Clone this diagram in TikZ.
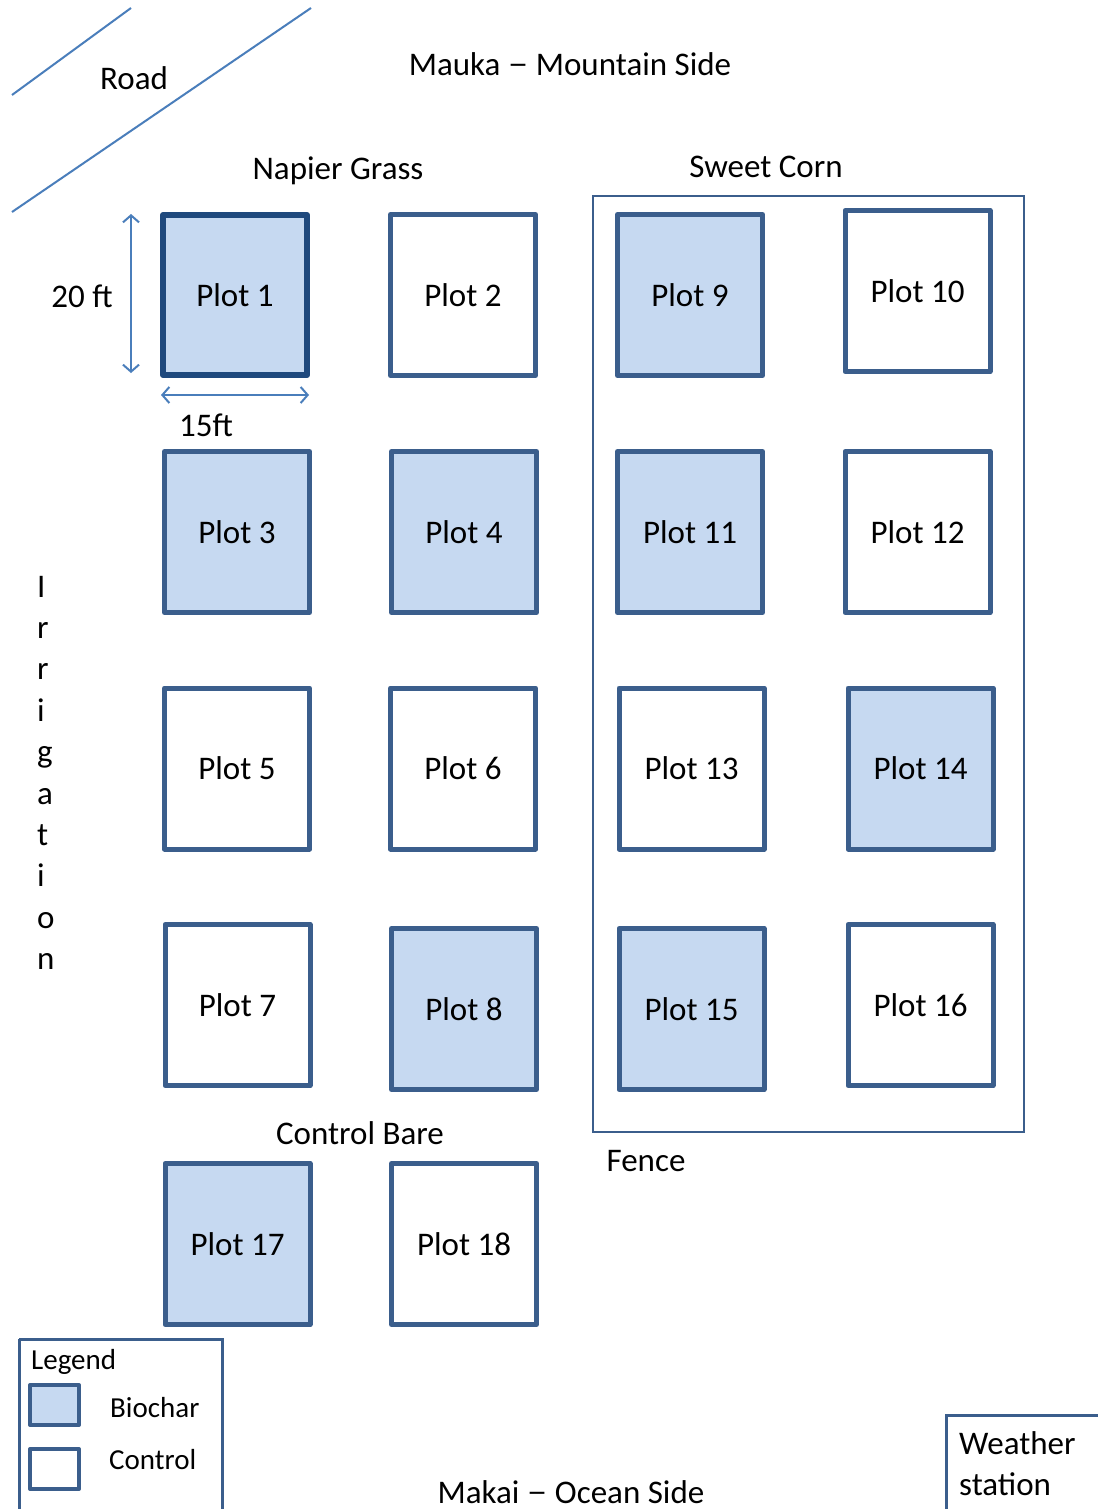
\documentclass[tikz,border=0pt]{standalone}
\usepackage{fontspec}
\setmainfont{Carlito}
\usetikzlibrary{arrows.meta}
\definecolor{plotline}{HTML}{3B5E8C}
\definecolor{darkline}{HTML}{1F497D}
\definecolor{biofill}{HTML}{C6D9F1}
\definecolor{thinline}{HTML}{4A7EBB}
\newcommand{\mydash}{\raisebox{0.5pt}{\scalebox{1.25}[1]{–}}}
\tikzset{
  x=1pt, y=-1pt,
  lbl/.style={font=\fontsize{33}{40}\selectfont, inner sep=0pt},
  smalllbl/.style={font=\fontsize{29}{35}\selectfont, inner sep=0pt},
  plotbox/.style={draw=plotline, line width=5pt, line join=round, minimum width=145pt, minimum height=161pt, inner sep=0pt, font=\fontsize{33}{40}\selectfont},
  bio/.style={plotbox, fill=biofill},
  ctrl/.style={plotbox, fill=white},
  thin/.style={draw=thinline, line width=2pt},
  dim/.style={thin, {Straight Barb[length=7pt,width=16pt]}-{Straight Barb[length=7pt,width=16pt]}},
  frame/.style={draw=plotline, line width=2.5pt, inner sep=0pt}
}
\begin{document}
\begin{tikzpicture}
\useasboundingbox (0,0) rectangle (1097,1509);
\fill[white] (0,0) rectangle (1097,1509);

% road
\coordinate (r1a) at (12,95);
\coordinate (r1b) at (131,8);
\coordinate (r2a) at (12,212);
\coordinate (r2b) at (311,8);
\draw[thin] (r1a) -- (r1b);
\draw[thin] (r2a) -- (r2b);
\node[lbl] (road) at (134,78) {Road};

\node[lbl] (mauka) at (570,64) {Mauka \mydash{} Mountain Side};
\node[lbl] (napier) at (338,171) {Napier Grass};
\node[lbl] (corn) at (766,167) {Sweet Corn};

% fence
\node[frame, minimum width=431pt, minimum height=936pt] (fence) at (808.5,664) {};
\node[lbl] (fencelbl) at (646,1161) {Fence};

% plots
\node[bio, draw=darkline, line width=6pt, minimum width=144pt, minimum height=160pt] (p1) at (235,295) {Plot 1};
\node[ctrl] (p2) at (463,295) {Plot 2};
\node[bio] (p9) at (690,295) {Plot 9};
\node[ctrl] (p10) at (917.5,291) {Plot 10};

\node[bio] (p3) at (237,532) {Plot 3};
\node[bio] (p4) at (464,532) {Plot 4};
\node[bio] (p11) at (690,532) {Plot 11};
\node[ctrl] (p12) at (917.5,532) {Plot 12};

\node[ctrl] (p5) at (237,768.5) {Plot 5};
\node[ctrl] (p6) at (463,768.5) {Plot 6};
\node[ctrl] (p13) at (691.5,768.5) {Plot 13};
\node[bio] (p14) at (920.5,768.5) {Plot 14};

\node[ctrl] (p7) at (237.5,1005) {Plot 7};
\node[bio] (p8) at (464,1009) {Plot 8};
\node[bio] (p15) at (691.5,1009) {Plot 15};
\node[ctrl] (p16) at (920.5,1005) {Plot 16};

\node[lbl] (bare) at (360,1133) {Control Bare};
\node[bio] (p17) at (237.5,1244) {Plot 17};
\node[ctrl] (p18) at (464,1244) {Plot 18};

% dimensions
\coordinate (vtop) at (131,214);
\coordinate (vbot) at (131,373);
\coordinate (hl) at (161,395);
\coordinate (hr) at (309,395);
\draw[dim] (vtop) -- (vbot);
\draw[dim] (hl) -- (hr);
\node[lbl] (h20) at (82,296) {20 ft};
\node[lbl] (w15) at (206,425) {15ft};

% irrigation
\foreach \ch [count=\i from 0] in {I,r,r,i,g,a,t,i,o,n} {
  \node[lbl, anchor=base west] (irr\i) at (37,{597+41.4*\i}) {\ch};
}

% legend
\draw[draw=plotline, line width=3pt] (19,1339) -- (19,1530) (19,1339) -- (222,1339) -- (222,1530);
\node[smalllbl, anchor=west] (legend) at (31,1362) {Legend};
\node[draw=plotline, line width=4pt, line join=round, fill=biofill, minimum width=49pt, minimum height=40pt, inner sep=0pt] (sw1) at (54.5,1405) {};
\node[draw=plotline, line width=4pt, line join=round, fill=white, minimum width=49pt, minimum height=40pt, inner sep=0pt] (sw2) at (54.5,1469) {};
\node[smalllbl, anchor=west] (biochar) at (110,1408) {Biochar};
\node[smalllbl, anchor=west] (control) at (109,1460) {Control};

% weather station
\draw[draw=plotline, line width=3pt] (946,1530) -- (946,1415) -- (1110,1415);
\node[lbl, anchor=west] (weather) at (959,1443) {Weather};
\node[lbl, anchor=west] (station) at (959,1484) {station};

\node[lbl, anchor=base] (makai) at (571,1503) {Makai \mydash{} Ocean Side};
\end{tikzpicture}
\end{document}
